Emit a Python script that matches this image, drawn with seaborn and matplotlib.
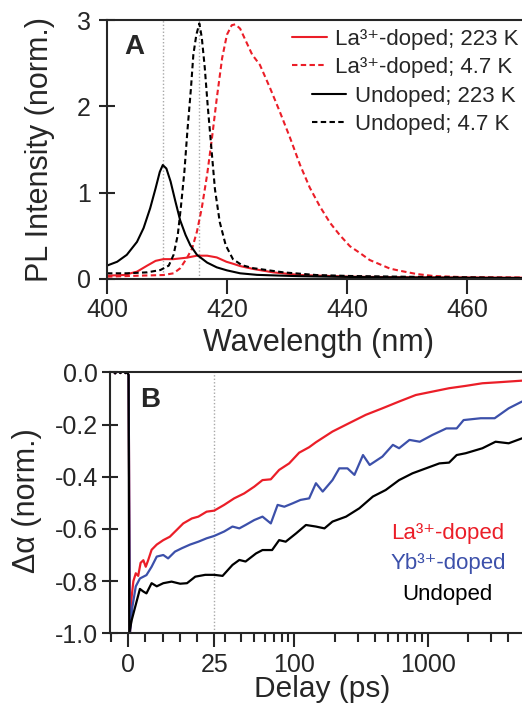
import numpy as np
import pandas as pd
import matplotlib
matplotlib.use("Agg")
import matplotlib.pyplot as plt
import seaborn as sns
from matplotlib.ticker import FixedLocator, NullFormatter

# ---------------- Panel A data (PL spectra) ----------------
wl_und_223 = [400, 401.7, 403.3, 405.0, 406.1, 407.2, 408.1, 408.8, 409.3, 409.9, 410.6,
              411.4, 412.2, 413.1, 413.9, 415.0, 416.7, 418.3, 420.0, 422.2, 425.0,
              428.5, 432.0, 437.0, 445.0, 455.0, 470.0]
pl_und_223 = [0.155, 0.20, 0.28, 0.43, 0.59, 0.82, 1.05, 1.24, 1.32, 1.28, 1.13,
              0.90, 0.68, 0.51, 0.39, 0.28, 0.19, 0.135, 0.10, 0.066, 0.048,
              0.04, 0.033, 0.027, 0.02, 0.015, 0.01]

wl_und_47 = [400, 403.3, 406.7, 408.9, 410.3, 411.1, 411.8, 412.3, 412.9, 413.4, 414.0,
             414.4, 414.9, 415.4, 415.8, 416.3, 416.8, 417.3, 418.0, 418.8, 419.8,
             421.0, 422.5, 424.4, 426.0, 429.4, 434.9, 440.5, 448.8, 458.0, 470.0]
pl_und_47 = [0.066, 0.066, 0.077, 0.104, 0.155, 0.28, 0.51, 0.82, 1.24, 1.71, 2.21,
             2.60, 2.83, 2.96, 2.80, 2.45, 2.00, 1.60, 1.04, 0.66, 0.39,
             0.23, 0.16, 0.125, 0.11, 0.077, 0.046, 0.035, 0.027, 0.02, 0.012]

wl_la_47 = [400, 405.6, 409.4, 411.1, 412.2, 413.3, 414.2, 415.0, 415.8, 416.7, 417.5,
            418.3, 419.2, 420.0, 420.8, 421.4, 422.2, 423.2, 424.2, 425.5, 427.2,
            428.8, 430.5, 432.2, 433.8, 435.5, 437.2, 438.8, 440.5, 442.2, 443.8,
            445.5, 447.2, 448.8, 451.6, 454.4, 460.0, 465.0, 470.0]
pl_la_47 = [0.027, 0.039, 0.046, 0.066, 0.124, 0.24, 0.355, 0.55, 0.82, 1.21, 1.63,
            2.09, 2.56, 2.83, 2.94, 2.95, 2.90, 2.75, 2.60, 2.48, 2.21,
            1.94, 1.64, 1.32, 1.06, 0.84, 0.65, 0.51, 0.38, 0.30, 0.22,
            0.17, 0.12, 0.096, 0.058, 0.035, 0.02, 0.018, 0.016]

wl_la_223 = [400, 402.8, 405.0, 406.7, 408.1, 409.4, 411.1, 413.3, 415.0, 416.7, 418.3,
             419.9, 421.1, 422.2, 424.4, 427.7, 432.2, 440.5, 450.0, 460.0, 470.0]
pl_la_223 = [0.039, 0.046, 0.085, 0.155, 0.21, 0.23, 0.23, 0.247, 0.27, 0.27, 0.25,
             0.20, 0.175, 0.15, 0.116, 0.077, 0.046, 0.027, 0.02, 0.018, 0.015]

pl_labels = ["La³⁺-doped; 223 K", "La³⁺-doped; 4.7 K",
             "Undoped; 223 K", "Undoped; 4.7 K"]
pl_markers_nm = [409.3, 415.3]

# ---------------- Panel B data (transient absorption) ----------------
pre_t = [-5.3, -4.8, -4.3, -3.8, -3.3, -2.8, -2.3, -1.8, -1.3, -0.8, -0.3, 0.1]
pre_v = [0.0, 0.006, 0.004, -0.004, 0.005, 0.006, -0.003, 0.004, 0.006, -0.003, 0.0, -0.01]

t_la = [0.5, 1.0, 1.5, 2.2, 2.9, 3.6, 4.4, 5.1, 5.8, 6.8, 8.3, 10.2, 12.1, 14.1, 16,
        18.5, 20.4, 22.8, 25, 29.7, 35.3, 42, 50, 57.6, 66.5, 76.8, 91.3, 108.5, 129,
        145, 193, 257, 343, 457, 610, 814, 1085, 1447, 1930, 2573, 3431, 5100]
v_la = [-1.0, -0.86, -0.80, -0.77, -0.78, -0.73, -0.72, -0.745, -0.72, -0.68, -0.66,
        -0.643, -0.63, -0.604, -0.579, -0.56, -0.553, -0.534, -0.53, -0.508, -0.483,
        -0.464, -0.438, -0.413, -0.41, -0.374, -0.349, -0.308, -0.287, -0.268,
        -0.227, -0.195, -0.163, -0.138, -0.112, -0.087, -0.074, -0.061, -0.052,
        -0.042, -0.038, -0.032]

t_yb = [0.5, 1.2, 2.2, 3.4, 5.3, 6.8, 8.3, 10.2, 11.6, 13.6, 15.6, 18, 20.4, 22.8, 25,
        29.7, 34.3, 38.6, 43, 50, 57.6, 66.5, 74.8, 84, 97, 111, 129, 145, 163, 193,
        217, 250, 282, 327, 367, 457, 548, 610, 730, 872, 1085, 1380, 1650, 1860,
        2500, 3180, 4050, 5100]
v_yb = [-1.0, -0.90, -0.82, -0.79, -0.777, -0.745, -0.706, -0.70, -0.713, -0.687,
        -0.674, -0.66, -0.649, -0.636, -0.627, -0.61, -0.591, -0.598, -0.585, -0.566,
        -0.553, -0.579, -0.508, -0.515, -0.502, -0.489, -0.483, -0.425, -0.457,
        -0.413, -0.368, -0.368, -0.393, -0.317, -0.355, -0.323, -0.278, -0.291,
        -0.259, -0.266, -0.240, -0.215, -0.215, -0.183, -0.176, -0.176, -0.138,
        -0.112]

t_und = [0.3, 1.0, 2.3, 3.4, 4.4, 5.3, 6.8, 8.3, 10.2, 12.6, 15.1, 17.1, 19.5, 22.4,
         25, 28.9, 34.3, 38.6, 43, 51.5, 57.6, 68, 76.8, 86, 103, 122, 145, 168, 193,
         244, 307, 388, 484, 610, 769, 970, 1224, 1447, 1650, 1930, 2573, 3230,
         4050, 5100]
v_und = [-1.0, -0.95, -0.885, -0.83, -0.84, -0.847, -0.808, -0.82, -0.808, -0.802,
         -0.81, -0.808, -0.783, -0.776, -0.776, -0.78, -0.738, -0.719, -0.725,
         -0.694, -0.681, -0.681, -0.643, -0.649, -0.617, -0.585, -0.591, -0.598,
         -0.572, -0.553, -0.521, -0.476, -0.451, -0.413, -0.387, -0.368, -0.349,
         -0.346, -0.317, -0.310, -0.291, -0.266, -0.272, -0.253]

ta_labels = ["La³⁺-doped", "Yb³⁺-doped", "Undoped"]
ta_marker_ps = 25

RED = "#eb1e28"
BLUE = "#3c50aa"
BLACK = "#000000"
GRAY = "#a8a8a8"

# ---------------- style ----------------
sns.set_style("ticks")
plt.rcParams["font.family"] = ["Liberation Sans", "DejaVu Sans"]
plt.rcParams["axes.unicode_minus"] = False
plt.rcParams["axes.linewidth"] = 1.5

fig = plt.figure(figsize=(5.22, 7.06), dpi=100)
axA = fig.add_axes([107 / 522, (706 - 279) / 706, 415 / 522, 259 / 706])
axB = fig.add_axes([110 / 522, (706 - 633.3) / 706, 412 / 522, 261 / 706])

# ---------------- Panel A ----------------
for xv in pl_markers_nm:
    axA.axvline(xv, color=GRAY, lw=1.0, ls=(0, (1, 1.5)), zorder=1)

lw = 1.5
dash = (2.6, 1.6)
sns.lineplot(x=wl_la_223, y=pl_la_223, ax=axA, color=RED, lw=lw, label=pl_labels[0],
             sort=False, estimator=None)
sns.lineplot(x=wl_la_47, y=pl_la_47, ax=axA, color=RED, lw=lw, label=pl_labels[1],
             sort=False, estimator=None)
sns.lineplot(x=wl_und_223, y=pl_und_223, ax=axA, color=BLACK, lw=lw, label=pl_labels[2],
             sort=False, estimator=None)
sns.lineplot(x=wl_und_47, y=pl_und_47, ax=axA, color=BLACK, lw=lw, label=pl_labels[3],
             sort=False, estimator=None)
lines = axA.get_lines()[len(pl_markers_nm):]
lines[1].set_dashes(dash)
lines[3].set_dashes(dash)

axA.set_xlim(400, 469.2)
axA.set_ylim(0, 3)
axA.set_xticks([400, 420, 440, 460])
axA.set_yticks([0, 1, 2, 3])
axA.tick_params(axis="x", direction="out", length=11, width=1.5, labelsize=18, pad=3)
axA.tick_params(axis="y", direction="inout", length=11.5, width=1.5, labelsize=18, pad=6)
axA.spines["right"].set_visible(False)
axA.spines["top"].set_visible(True)
axA.set_xlabel("Wavelength (nm)", fontsize=22)
axA.set_ylabel("PL Intensity (norm.)", fontsize=22)
axA.xaxis.set_label_coords(0.51, -0.19)
axA.yaxis.set_label_coords(-0.125, 0.5)
axA.text(0.065, 0.895, "A", transform=axA.transAxes, fontsize=20, fontweight="bold",
         ha="center", va="center")

h, l = axA.get_legend_handles_labels()
leg_kw = dict(frameon=False, fontsize=16, handlelength=1.55, handletextpad=0.4,
              labelspacing=0.3, borderpad=0, borderaxespad=0, loc="upper left")
leg1 = axA.legend(h[:2], l[:2], bbox_to_anchor=(0.446, 0.965), **leg_kw)
axA.add_artist(leg1)
axA.legend(h[2:], l[2:], bbox_to_anchor=(0.494, 0.745), **leg_kw)

# ---------------- Panel B ----------------
LIN = 0.645  # linear 0-25 ps span, in decades of the log part


def fwd(x):
    x = np.asarray(x, dtype=float)
    lin = x / 25.0 * LIN
    lg = LIN + np.log10(np.maximum(x, 25.0) / 25.0)
    return np.where(x <= 25.0, lin, lg)


def inv(y):
    y = np.asarray(y, dtype=float)
    lin = y / LIN * 25.0
    lg = 25.0 * 10 ** (np.maximum(y, LIN) - LIN)
    return np.where(y <= LIN, lin, lg)


axB.set_xscale("function", functions=(fwd, inv))
axB.axvline(ta_marker_ps, color=GRAY, lw=1.0, ls=(0, (1, 1.5)), zorder=1)

df_b = pd.concat([
    pd.DataFrame({"t": pre_t + t_la, "v": pre_v + v_la, "s": ta_labels[0]}),
    pd.DataFrame({"t": pre_t + t_yb, "v": pre_v + v_yb, "s": ta_labels[1]}),
    pd.DataFrame({"t": pre_t + t_und, "v": pre_v + v_und, "s": ta_labels[2]}),
])
sns.lineplot(data=df_b, x="t", y="v", hue="s",
             palette={ta_labels[0]: RED, ta_labels[1]: BLUE, ta_labels[2]: BLACK},
             hue_order=ta_labels, lw=1.6, sort=False, estimator=None, legend=False,
             ax=axB)

axB.set_xlim(-5.3, 5100)
axB.set_ylim(-1.0, 0.0)
axB.xaxis.set_major_locator(FixedLocator([0, 25, 100, 1000]))
axB.set_xticklabels(["0", "25", "100", "1000"])
minor = [-5, 5, 10, 15, 20] + list(range(30, 100, 10)) + list(range(200, 1000, 100)) + [2000, 3000, 4000]
axB.xaxis.set_minor_locator(FixedLocator(minor))
axB.xaxis.set_minor_formatter(NullFormatter())
axB.set_yticks([0.0, -0.2, -0.4, -0.6, -0.8, -1.0])
axB.set_yticklabels(["0.0", "-0.2", "-0.4", "-0.6", "-0.8", "-1.0"])
axB.tick_params(axis="x", which="major", direction="out", length=10, width=1.5,
                labelsize=18, pad=4)
axB.tick_params(axis="x", which="minor", direction="out", length=6.5, width=1.5)
axB.tick_params(axis="y", direction="inout", length=11, width=1.5, labelsize=18, pad=3)
axB.spines["right"].set_visible(False)
axB.set_xlabel("Delay (ps)", fontsize=21.5)
axB.set_ylabel("Δα (norm.)", fontsize=22)
axB.xaxis.set_label_coords(0.515, -0.158)
axB.yaxis.set_label_coords(-0.165, 0.51)
axB.text(0.097, 0.894, "B", transform=axB.transAxes, fontsize=20, fontweight="bold",
         ha="center", va="center")
for lab, col, yy in zip(ta_labels, [RED, BLUE, BLACK], [0.384, 0.268, 0.148]):
    axB.text(0.82, yy, lab, transform=axB.transAxes, fontsize=16, color=col,
             ha="center", va="center")

fig.savefig("out.png", dpi=100)
